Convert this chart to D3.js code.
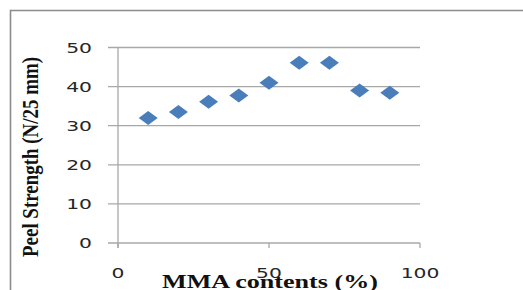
<!DOCTYPE html>
<html>
<head>
<meta charset="utf-8">
<script src="https://cdn.jsdelivr.net/npm/d3@7"></script>
<style>
  body { margin: 0; background: #fff; }
  svg { display: block; }
</style>
</head>
<body>
<div id="chart"></div>
<script>
// data
var mmaContent = [10, 20, 30, 40, 50, 60, 70, 80, 90];
var peelStrength = [32.0, 33.5, 36.1, 37.7, 41.0, 46.1, 46.1, 39.0, 38.4];
var xTicks = [0, 50, 100];
var yTicks = [0, 10, 20, 30, 40, 50];

var W = 523, H = 290;
var sx = 1.45; // the picture is stretched sideways

var svg = d3.select("#chart").append("svg")
    .attr("width", W)
    .attr("height", H);

// outer frame
svg.append("path")
    .attr("d", "M10.5," + H + "V10.5H" + W)
    .attr("fill", "none")
    .attr("stroke", "#8c8c8c")
    .attr("stroke-width", 1.6);

var x = d3.scaleLinear().domain([0, 100]).range([118, 420]);
var y = d3.scaleLinear().domain([0, 50]).range([243, 47.5]);

// horizontal grid lines
svg.selectAll("line.grid")
    .data(yTicks)
    .enter().append("line")
    .attr("class", "grid")
    .attr("x1", x(0) - 10)
    .attr("x2", x(100))
    .attr("y1", function(d){ return y(d); })
    .attr("y2", function(d){ return y(d); })
    .attr("stroke", "#a8a8a8")
    .attr("stroke-width", 1.3);

// y axis line
svg.append("line")
    .attr("x1", x(0)).attr("x2", x(0))
    .attr("y1", y(50)).attr("y2", y(0) + 5)
    .attr("stroke", "#a8a8a8")
    .attr("stroke-width", 1.3);

// x ticks
svg.selectAll("line.xt")
    .data(xTicks)
    .enter().append("line")
    .attr("class", "xt")
    .attr("x1", function(d){ return x(d); })
    .attr("x2", function(d){ return x(d); })
    .attr("y1", y(0))
    .attr("y2", y(0) + 5)
    .attr("stroke", "#a8a8a8")
    .attr("stroke-width", 1.3);

// y tick labels
svg.selectAll("g.yl")
    .data(yTicks)
    .enter().append("g")
    .attr("class", "yl")
    .attr("transform", function(d){ return "translate(92," + y(d) + ")scale(" + sx + ",1)"; })
    .append("text")
    .attr("text-anchor", "end")
    .attr("dy", "0.36em")
    .style("font-family", "DejaVu Sans")
    .style("font-size", "14px")
    .style("fill", "#262626")
    .text(function(d){ return d; });

// x tick labels
svg.selectAll("g.xl")
    .data(xTicks)
    .enter().append("g")
    .attr("class", "xl")
    .attr("transform", function(d){ return "translate(" + x(d) + ",278)scale(" + sx + ",1)"; })
    .append("text")
    .attr("text-anchor", "middle")
    .style("font-family", "DejaVu Sans")
    .style("font-size", "14px")
    .style("fill", "#262626")
    .text(function(d){ return d; });

// axis titles
svg.append("g")
    .attr("transform", "translate(270,288)scale(1.45,1)")
    .append("text")
    .attr("text-anchor", "middle")
    .style("font-family", "Liberation Serif")
    .style("font-weight", "bold")
    .style("font-size", "18px")
    .style("fill", "#111")
    .text("MMA contents (%)");

svg.append("g")
    .attr("transform", "translate(38,157)scale(1.25,1)rotate(-90)")
    .append("text")
    .attr("text-anchor", "middle")
    .attr("textLength", 200)
    .attr("lengthAdjust", "spacingAndGlyphs")
    .style("font-family", "Liberation Serif")
    .style("font-weight", "bold")
    .style("font-size", "18px")
    .style("fill", "#111")
    .text("Peel Strength (N/25 mm)");

// markers
svg.selectAll("path.pt")
    .data(mmaContent)
    .enter().append("path")
    .attr("class", "pt")
    .attr("d", "M-9.5,0L0,-7L9.5,0L0,7Z")
    .attr("transform", function(d, i){ return "translate(" + x(d) + "," + y(peelStrength[i]) + ")"; })
    .attr("fill", "#4a7ebb");
</script>
</body>
</html>
